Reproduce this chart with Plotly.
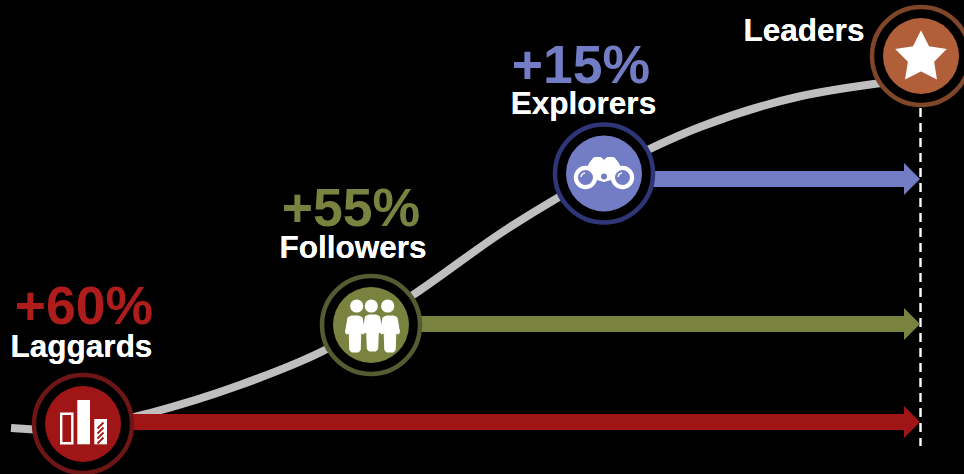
import numpy as np
import plotly.graph_objects as go

# Maturity stages along the adoption curve
stages = ["Laggards", "Followers", "Explorers", "Leaders"]
uplift_pct = [60, 55, 15]
stage_x = [83, 371, 604, 921]
stage_y = [424, 325, 173.5, 56]

curve_x = [11, 75, 150, 240, 327, 413, 507, 604, 700, 797, 921]
curve_y = [428, 429, 413, 385, 349, 295, 229, 172, 127, 97, 78]

target_x = 920.5
target_top = 108
target_bottom = 446

BG = "#000000"
WHITE = "#FFFFFF"
GREY = "#BFBFBF"
FONT = "Liberation Sans"
fills = ["#A01616", "#7A8240", "#737DC6", "#B05F38"]
rings = ["#6E1616", "#565C32", "#2E3678", "#7F4629"]
pct_colors = ["#AE1C1C", "#7A8240", "#737DC6"]


def arrow_outline(x0, x1, y, half_bar=8, half_head=16, head=16):
    """Closed outline of a right-pointing block arrow."""
    xs = [x0, x1 - head, x1 - head, x1, x1 - head, x1 - head, x0, x0]
    ys = [y - half_bar, y - half_bar, y - half_head, y, y + half_head, y + half_bar, y + half_bar, y - half_bar]
    return xs, ys


def poly_path(xs, ys):
    return "M" + "L".join(f"{a:.2f},{b:.2f}" for a, b in zip(xs, ys)) + "Z"


def disc(cx, cy, r, fill):
    return dict(type="circle", xref="x", yref="y", x0=cx - r, x1=cx + r, y0=cy - r, y1=cy + r,
                fillcolor=fill, line=dict(width=0), layer="above")


def box(x0, y0, x1, y1, fill, line=None, width=0):
    return dict(type="rect", xref="x", yref="y", x0=x0, x1=x1, y0=y0, y1=y1, fillcolor=fill,
                line=dict(width=width, color=line or fill), layer="above")


def path(d, fill, line=None, width=0):
    return dict(type="path", xref="x", yref="y", path=d, fillcolor=fill,
                line=dict(width=width, color=line or fill), layer="above")


def bars_icon(cx, cy, accent):
    out = [
        box(cx - 21.8, cy - 10.3, cx - 10.7, cy + 19.3, accent, WHITE, 2.4),
        box(cx - 5.7, cy - 24, cx + 7, cy + 20.3, WHITE),
        box(cx + 11.3, cy - 5, cx + 24, cy + 20.3, WHITE),
    ]
    for k in range(4):
        top = cy + 1.5 + k * 5
        out.append(path(f"M{cx + 14.5},{top + 3}L{cx + 20.5},{top - 3}", accent, accent, 1.8))
    return out


def person(cx, top):
    xs = np.array([-3.5, 3.5, 7.0, 9.5, 8.5, 5.8, 5.2, 3.5, -3.5, -5.2, -5.8, -8.5, -9.5, -7.0])
    ys = np.array([0, 0, 1.5, 16, 18, 17, 34, 36, 36, 34, 17, 18, 16, 1.5])
    return path(poly_path(cx + xs, top + ys), WHITE, WHITE, 1)


def people_icon(cx, cy):
    out = []
    for dx, dtop, hx in [(-16, -9, -14.3), (19, -9, 16.7), (1.5, -10, 0.3)]:
        out.append(disc(cx + hx, cy - 19, 6.6, WHITE))
        out.append(person(cx + dx, cy + dtop))
    return out


def binoculars_icon(cx, cy, accent):
    out = [
        path(f"M{cx - 21},{cy + 2}L{cx - 14},{cy - 11}L{cx - 10},{cy - 16}L{cx - 3},{cy - 16}"
             f"L{cx},{cy - 13}L{cx + 3},{cy - 16}L{cx + 10},{cy - 16}L{cx + 14},{cy - 11}"
             f"L{cx + 21},{cy + 2}L{cx},{cy + 8}Z", WHITE, WHITE, 1),
    ]
    for side in (-1, 1):
        x = cx + side * 18.5
        out.append(disc(x, cy + 4, 11.7, WHITE))
        out.append(disc(x, cy + 4, 7.5, accent))
        out.append(path(f"M{x - 4.5},{cy + 3.5}Q{x - 4},{cy} {x - 0.5},{cy - 0.5}", "rgba(0,0,0,0)", WHITE, 1.4))
    out.append(disc(cx, cy + 3, 3, accent))
    return out


def star_icon(cx, cy, outer=25.5, inner=13):
    angles = np.deg2rad(-90 + 36 * np.arange(10))
    radii = np.where(np.arange(10) % 2 == 0, outer, inner)
    return [path(poly_path(cx + radii * np.cos(angles), cy + radii * np.sin(angles)), WHITE, WHITE, 1.5)]


fig = go.Figure()

# Adoption curve
fig.add_trace(go.Scatter(x=curve_x, y=curve_y, mode="lines",
                         line=dict(color=GREY, width=8, shape="spline", smoothing=1.0), hoverinfo="skip"))

# Dashed line marking where the leaders sit
fig.add_trace(go.Scatter(x=[target_x, target_x], y=[target_top, target_bottom], mode="lines",
                         line=dict(color=WHITE, width=2.4, dash="9px,6px"), hoverinfo="skip"))

# Gap arrows running from each stage across to the target line
for i in range(3):
    ax, ay = arrow_outline(stage_x[i], target_x - 0.5, [422, 324, 179][i])
    fig.add_trace(go.Scatter(x=ax, y=ay, mode="lines", fill="toself", fillcolor=fills[i],
                             line=dict(width=0, color=fills[i]), hoverinfo="skip"))

# Stage badges: a black disc with a coloured ring, then the coloured centre
fig.add_trace(go.Scatter(x=stage_x, y=stage_y, mode="markers",
                         marker=dict(size=98, color=BG, line=dict(width=4.5, color=rings)), hoverinfo="skip"))
fig.add_trace(go.Scatter(x=stage_x, y=stage_y, mode="markers",
                         marker=dict(size=76, color=fills, line=dict(width=0)), hoverinfo="skip"))

# Stage names
fig.add_trace(go.Scatter(x=[81.5, 353, 583.5, 804], y=[349, 250, 106, 33], mode="text",
                         text=[f"<b>{s}</b>" for s in stages], textposition="middle center",
                         textfont=dict(family=FONT, size=31.5, color=WHITE, shadow=f"0 0 0.3px {WHITE}"),
                         hoverinfo="skip"))

# Uplift percentages
fig.add_trace(go.Scatter(x=[84, 351, 581], y=[311, 213, 69.5], mode="text",
                         text=[f"<b>+{p}%</b>" for p in uplift_pct], textposition="middle center",
                         textfont=dict(family=FONT, size=53.5, color=pct_colors), hoverinfo="skip"))

icons = (bars_icon(stage_x[0], stage_y[0], fills[0])
         + people_icon(stage_x[1], stage_y[1])
         + binoculars_icon(stage_x[2], stage_y[2], fills[2])
         + star_icon(stage_x[3], stage_y[3] + 1.5))

fig.update_layout(
    width=964, height=474, margin=dict(l=0, r=0, t=0, b=0), autosize=False,
    paper_bgcolor=BG, plot_bgcolor=BG, showlegend=False, shapes=icons,
    xaxis=dict(range=[0, 964], visible=False, fixedrange=True),
    yaxis=dict(range=[474, 0], visible=False, fixedrange=True),
)

fig.write_html("out.html", config=dict(displayModeBar=False))
